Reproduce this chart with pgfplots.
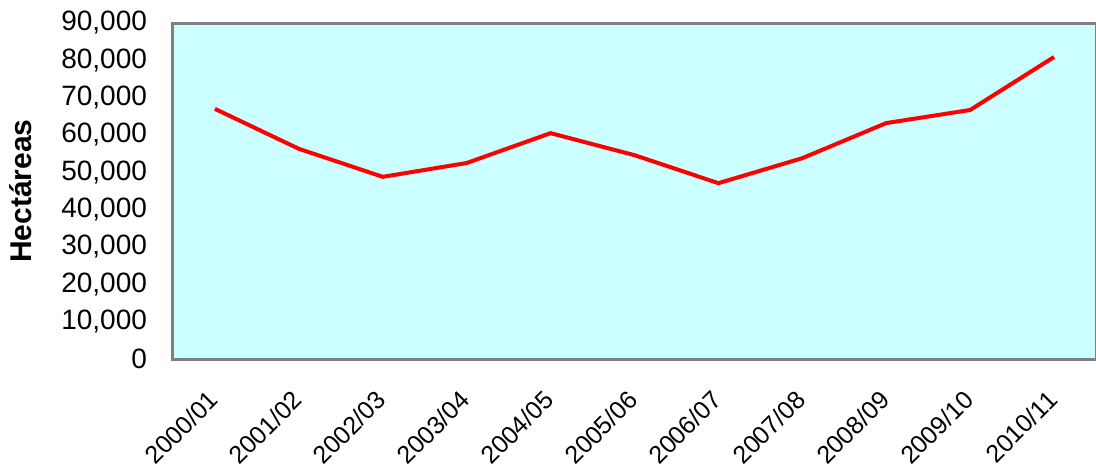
\documentclass[border=0pt]{standalone}
\usepackage{pgfplots}
\pgfplotsset{compat=1.18}
\usepackage{fontspec}
\setmainfont{Liberation Sans}
\definecolor{plotbg}{HTML}{CCFFFF}
\definecolor{frame}{HTML}{808080}
\begin{document}
\begin{tikzpicture}
\begin{axis}[
    at={(86.5pt,54.5pt)}, anchor=south west,
    scale only axis,
    width=461.5pt, height=168pt,
    axis background/.style={fill=plotbg},
    axis line style={frame, line width=1.5pt},
    xmin=-0.5, xmax=10.5,
    ymin=0, ymax=90000,
    xtick={0,...,10},
    xticklabels={2000/01,2001/02,2002/03,2003/04,2004/05,2005/06,2006/07,2007/08,2008/09,2009/10,2010/11},
    ytick={0,10000,...,90000},
    major tick length=0pt,
    scaled y ticks=false,
    /pgf/number format/.cd, fixed, 1000 sep={,}, assume math mode=true,
    /pgfplots/.cd,
    yticklabel style={font=\fontsize{14}{16}\selectfont, xshift=-9.5pt},
    xticklabel style={font=\fontsize{12.5}{14}\selectfont, xshift=-4pt, yshift=-10pt, rotate=45, anchor=north east},
    ylabel={\bfseries Hectáreas},
    every axis y label/.style={at={([xshift=-76pt]axis description cs:0,0.5)}, anchor=center, rotate=90, font=\fontsize{15}{17}\selectfont},
]
\addplot[red, line width=2pt, mark=none] coordinates {
    (0,67000) (1,56300) (2,48800) (3,52500) (4,60500) (5,54600)
    (6,47100) (7,53800) (8,63200) (9,66700) (10,80900)
};
\end{axis}
\pgfresetboundingbox
\path[use as bounding box] (0,0) rectangle (548pt,234pt);
\end{tikzpicture}
\end{document}
